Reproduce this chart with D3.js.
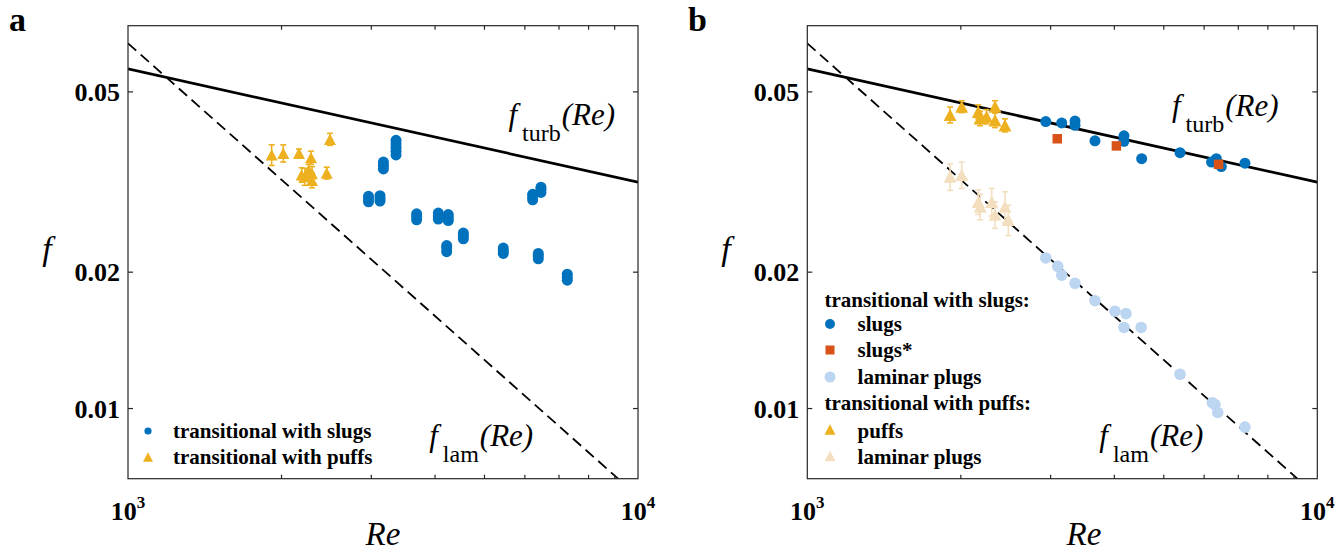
<!DOCTYPE html>
<html><head><meta charset="utf-8">
<script src="https://cdn.jsdelivr.net/npm/d3@7"></script>
<style>
body{margin:0;background:#fff}
svg{display:block}
text{font-family:"Liberation Serif","Times New Roman",serif;fill:#000}
</style>
</head><body>
<svg id="chart" width="1341" height="553"></svg>
<script>
// ---------------- data ----------------
const reDomain = [1000, 10000];
const fDomain = [0.007, 0.07];
const xTickValues = [1000, 10000];
const xTickExponents = ["3", "4"];
const xMinorTicks = [2000, 3000, 4000, 5000, 6000, 7000, 8000, 9000];
const yTickValues = [0.01, 0.02, 0.05];
const yTickLabels = ["0.01", "0.02", "0.05"];

// reference curves (end points of straight log-log lines)
const turbRe = [1000, 10000];
const turbF = [0.0562, 0.0316];
const lamRe = [1000, 10000];
const lamF = [0.064, 0.0064];

// panel a: transitional with slugs (repeated measurements at each Re)
const aSlugRe = [3354,3354,3354,3354,3354, 3168,3168,3168, 2962,2962,2962, 3120,3120,3120,
  3681,3681,3681, 4059,4059,4059, 4246,4246,4246, 4545,4545,4545, 4216,4216,4216,
  5443,5443,5443, 6375,6375,6375, 6215,6215,6215, 6452,6452,6452, 7267,7267,7267];
const aSlugF = [0.0391,0.0384,0.0377,0.0370,0.0363, 0.0350,0.0344,0.0338, 0.0294,0.0290,0.0286, 0.0295,0.0291,0.0287,
  0.0269,0.0265,0.0261, 0.0270,0.0266,0.0262, 0.0268,0.0264,0.0260, 0.0244,0.0241,0.0237, 0.0229,0.0226,0.0222,
  0.0226,0.0223,0.0220, 0.0220,0.0217,0.0214, 0.0297,0.0293,0.0289, 0.0308,0.0304,0.0300, 0.0198,0.0195,0.0192];
// panel a: transitional with puffs
const aPuffRe = [1913, 2016, 2164, 2285, 2489, 2190, 2222, 2295, 2295, 2453, 2260];
const aPuffF = [0.0363, 0.0366, 0.0366, 0.0358, 0.0393, 0.0328, 0.0325, 0.0330, 0.0319, 0.0331, 0.0336];
const aPuffErr = [0.0019, 0.0016, 0.0008, 0.0012, 0.0012, 0.0012, 0.0014, 0.0012, 0.0012, 0.0010, 0.0010];

// panel b
const bSlugRe = [2935, 3154, 3349, 3349, 3665, 4178, 4178, 4525, 5380, 6204, 6340, 6482, 7214];
const bSlugF = [0.0430, 0.0427, 0.0431, 0.0422, 0.0390, 0.0400, 0.0389, 0.0356, 0.0367, 0.0350, 0.0356, 0.0342, 0.0348];
const bSlugStarRe = [3091, 4037, 6403];
const bSlugStarF = [0.0394, 0.0380, 0.0346];
const bSlugPlugRe = [2935, 3097, 3154, 3349, 3665, 4011, 4216, 4178, 4514, 5380, 6225, 6300, 6380, 7214];
const bSlugPlugF = [0.0215, 0.0206, 0.0197, 0.0189, 0.0173, 0.0164, 0.0162, 0.0151, 0.0151, 0.0119, 0.0103, 0.0102, 0.0098, 0.0091];
const bPuffRe = [1905, 2008, 2164, 2181, 2334, 2334, 2441, 2246];
const bPuffF = [0.0445, 0.0464, 0.0452, 0.0437, 0.0464, 0.0433, 0.0422, 0.0441];
const bPuffErr = [0.0018, 0.0014, 0.0016, 0.0016, 0.0014, 0.0016, 0.0014, 0.0016];
const bPuffPlugRe = [1905, 2008, 2164, 2183, 2299, 2334, 2441, 2478];
const bPuffPlugF = [0.0325, 0.0328, 0.0286, 0.0279, 0.0286, 0.0268, 0.0279, 0.0261];
const bPuffPlugErr = [0.0022, 0.0022, 0.0018, 0.0018, 0.0020, 0.0018, 0.0022, 0.0020];

// ---------------- style ----------------
const C_BLUE = "#0072BD", C_YEL = "#EDB120", C_ORG = "#D95319", C_LBLUE = "#BCD5F1", C_TAN = "#F3DFBF";
const AXIS = "#262626";

const svg = d3.select("#chart");
const plotTop = 25.7, plotBottom = 478.7, W = 510;

function panel(left, opts) {
  const x = d3.scaleLog().domain(reDomain).range([left, left + W]);
  const y = d3.scaleLog().domain(fDomain).range([plotBottom, plotTop]);
  const g = svg.append("g");
  const clipId = "clip" + opts.id;
  g.append("clipPath").attr("id", clipId).append("rect")
    .attr("x", left).attr("y", plotTop).attr("width", W).attr("height", plotBottom - plotTop);

  // reference lines
  const line = d3.line().x(d => x(d[0])).y(d => y(d[1]));
  const lines = g.append("g").attr("clip-path", `url(#${clipId})`);
  lines.append("path").datum(d3.zip(lamRe, lamF)).attr("d", line)
    .attr("fill", "none").attr("stroke", "#000").attr("stroke-width", 1.8).attr("stroke-dasharray", "11,6");
  lines.append("path").datum(d3.zip(turbRe, turbF)).attr("d", line)
    .attr("fill", "none").attr("stroke", "#000").attr("stroke-width", 2.7);

  opts.draw(g, x, y);

  // axes box + ticks
  const ax = g.append("g").attr("stroke", AXIS).attr("stroke-width", 1.2).attr("fill", "none");
  ax.append("rect").attr("x", left).attr("y", plotTop).attr("width", W).attr("height", plotBottom - plotTop);
  xMinorTicks.forEach(v => {
    ax.append("line").attr("x1", x(v)).attr("x2", x(v)).attr("y1", plotBottom).attr("y2", plotBottom - 4);
    ax.append("line").attr("x1", x(v)).attr("x2", x(v)).attr("y1", plotTop).attr("y2", plotTop + 4);
  });
  yTickValues.forEach(v => {
    ax.append("line").attr("x1", left).attr("x2", left + 5).attr("y1", y(v)).attr("y2", y(v));
    ax.append("line").attr("x1", left + W).attr("x2", left + W - 5).attr("y1", y(v)).attr("y2", y(v));
  });
  // y tick labels
  yTickValues.forEach((v, i) => {
    g.append("text").attr("x", left - 8).attr("y", y(v) + 9).attr("text-anchor", "end")
      .attr("font-size", 26).attr("font-weight", "bold").attr("fill", "#262626").text(yTickLabels[i]);
  });
  // x tick labels
  xTickValues.forEach((v, i) => {
    const t = g.append("text").attr("x", x(v)).attr("y", 520).attr("text-anchor", "middle")
      .attr("font-size", 26).attr("font-weight", "bold").attr("fill", "#262626");
    t.append("tspan").text("10");
    t.append("tspan").attr("font-size", 17).attr("dy", -12).text(xTickExponents[i]);
  });
  // axis labels
  g.append("text").attr("x", opts.reX).attr("y", 545).attr("text-anchor", "middle")
    .attr("font-size", 33).attr("font-style", "italic").attr("fill", "#262626").text("Re");
  g.append("text").attr("x", opts.fX).attr("y", 260).attr("text-anchor", "middle")
    .attr("font-size", 34).attr("font-style", "italic").attr("fill", "#262626").text("f");
  // panel letter
  g.append("text").attr("x", opts.letterX).attr("y", 31).attr("font-size", 34).attr("font-weight", "bold").text(opts.id);

  // law labels
  function law(re, f, sub) {
    const t = g.append("text").attr("x", x(re)).attr("y", y(f)).attr("font-size", 31);
    t.append("tspan").attr("font-style", "italic").text("f");
    t.append("tspan").attr("font-size", 24).attr("dy", 16).attr("dx", 5).text(sub);
    t.append("tspan").attr("font-style", "italic").attr("dy", -16).attr("dx", 1).text("(Re)");
  }
  law(opts.turbPos[0], opts.turbPos[1], "turb");
  law(opts.lamPos[0], opts.lamPos[1], "lam");
  return {x, y, g};
}

function triPath(cx, cy, w) {
  const h = w * 0.95;
  return `M${cx},${cy - h / 2}L${cx + w / 2},${cy + h / 2}L${cx - w / 2},${cy + h / 2}Z`;
}
function squarePath(cx, cy, s) { return `M${cx - s/2},${cy - s/2}h${s}v${s}h${-s}Z`; }

function drawTriangles(g, x, y, re, f, err, color, w) {
  const data = d3.range(re.length).map(i => ({re: re[i], f: f[i], e: err[i]}));
  const eb = g.append("g").attr("stroke", color).attr("stroke-width", 1.6);
  data.forEach(d => {
    const y0 = y(d.f + d.e), y1 = y(d.f - d.e), cx = x(d.re);
    eb.append("line").attr("x1", cx).attr("x2", cx).attr("y1", y0).attr("y2", y1);
    eb.append("line").attr("x1", cx - 3).attr("x2", cx + 3).attr("y1", y0).attr("y2", y0);
    eb.append("line").attr("x1", cx - 3).attr("x2", cx + 3).attr("y1", y1).attr("y2", y1);
  });
  g.append("g").selectAll("path").data(data).join("path")
    .attr("d", d => triPath(x(d.re), y(d.f), w)).attr("fill", color);
}
function drawCircles(g, x, y, re, f, color, r) {
  g.append("g").selectAll("circle").data(d3.zip(re, f)).join("circle")
    .attr("cx", d => x(d[0])).attr("cy", d => y(d[1])).attr("r", r).attr("fill", color);
}

// ---------------- panel a ----------------
panel(128, {
  id: "a", reX: 383, fX: 47, letterX: 9,
  turbPos: [5570, 0.0423], lamPos: [3896, 0.00827],
  draw: (g, x, y) => {
    drawTriangles(g, x, y, aPuffRe, aPuffF, aPuffErr, C_YEL, 12);
    drawCircles(g, x, y, aSlugRe, aSlugF, C_BLUE, 5.5);
    // legend
    const L = g.append("g");
    L.append("circle").attr("cx", 148).attr("cy", 431).attr("r", 3.6).attr("fill", C_BLUE);
    L.append("path").attr("d", triPath(148, 457, 10)).attr("fill", C_YEL);
    L.append("text").attr("x", 173).attr("y", 437.5).attr("font-size", 21).attr("font-weight", "bold").text("transitional with slugs");
    L.append("text").attr("x", 173).attr("y", 463.5).attr("font-size", 21).attr("font-weight", "bold").text("transitional with puffs");
  }
});

// ---------------- panel b ----------------
panel(807.3, {
  id: "b", reX: 1084, fX: 726, letterX: 688,
  turbPos: [5189, 0.0442], lamPos: [3737, 0.00827],
  draw: (g, x, y) => {
    drawTriangles(g, x, y, bPuffPlugRe, bPuffPlugF, bPuffPlugErr, C_TAN, 13);
    drawCircles(g, x, y, bSlugPlugRe, bSlugPlugF, C_LBLUE, 5.8);
    drawTriangles(g, x, y, bPuffRe, bPuffF, bPuffErr, C_YEL, 13);
    drawCircles(g, x, y, bSlugRe, bSlugF, C_BLUE, 5.5);
    g.append("g").selectAll("path").data(d3.zip(bSlugStarRe, bSlugStarF)).join("path")
      .attr("d", d => squarePath(x(d[0]), y(d[1]), 9.5)).attr("fill", C_ORG);
    // legend
    const L = g.append("g");
    const rows = [306.5, 331, 357, 384, 409.5, 437.5, 464];
    const tx = 857.6, mx = 830;
    const lab = (i, s) => L.append("text").attr("x", i === 0 || i === 4 ? 824.5 : tx).attr("y", rows[i])
      .attr("font-size", 21).attr("font-weight", "bold").text(s);
    lab(0, "transitional with slugs:");
    lab(1, "slugs");
    lab(2, "slugs*");
    lab(3, "laminar plugs");
    lab(4, "transitional with puffs:");
    lab(5, "puffs");
    lab(6, "laminar plugs");
    L.append("circle").attr("cx", mx).attr("cy", rows[1] - 7).attr("r", 5).attr("fill", C_BLUE);
    L.append("path").attr("d", squarePath(mx, rows[2] - 7, 9)).attr("fill", C_ORG);
    L.append("circle").attr("cx", mx).attr("cy", rows[3] - 7).attr("r", 5.5).attr("fill", C_LBLUE);
    L.append("path").attr("d", triPath(mx, rows[5] - 8, 11)).attr("fill", C_YEL);
    L.append("path").attr("d", triPath(mx, rows[6] - 8, 11)).attr("fill", C_TAN);
  }
});
</script>
</body></html>
